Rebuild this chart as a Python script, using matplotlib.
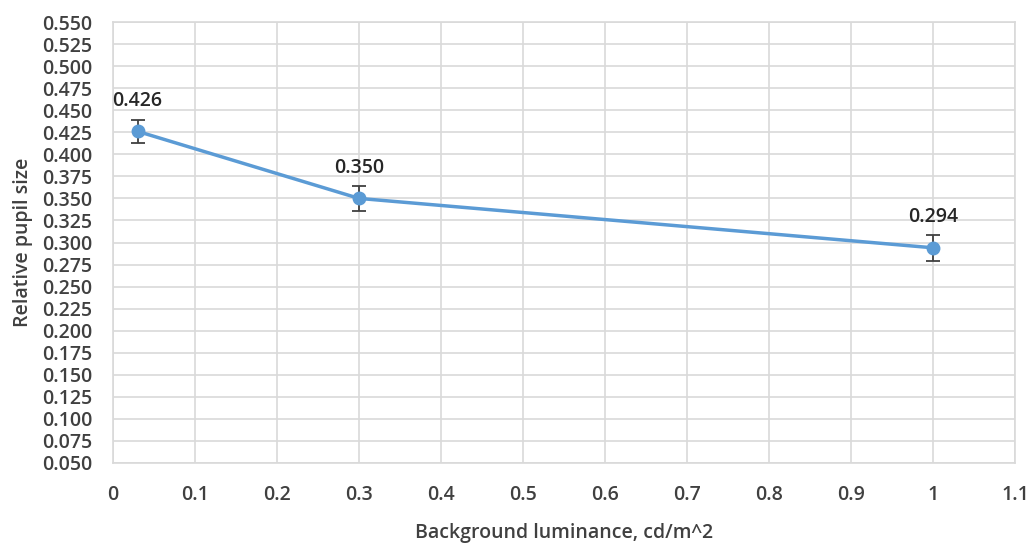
import matplotlib
matplotlib.use("Agg")
import matplotlib.pyplot as plt
import numpy as np

# Pupil size measurements vs background luminance
luminance = [0.03, 0.3, 1.0]
pupil_size = [0.426, 0.350, 0.294]
pupil_err = [0.013, 0.0145, 0.015]
value_labels = ["0.426", "0.350", "0.294"]

x_ticks = [0, 0.1, 0.2, 0.3, 0.4, 0.5, 0.6, 0.7, 0.8, 0.9, 1.0, 1.1]
x_tick_labels = ["0", "0.1", "0.2", "0.3", "0.4", "0.5", "0.6", "0.7", "0.8", "0.9", "1", "1.1"]
y_ticks = np.arange(0.050, 0.5501, 0.025)

plt.rcParams['font.family'] = ['Open Sans', 'DejaVu Sans']
plt.rcParams['font.weight'] = 'semibold'
plt.rcParams['axes.labelweight'] = 'semibold'

fig = plt.figure(figsize=(10.32, 5.44), dpi=100)
ax = fig.add_axes([113/1032, 1 - 463/544, (1015 - 113)/1032, (463 - 22)/544])

line_color = "#5B9BD5"
text_color = "#404040"
grid_color = "#D9D9D9"

ax.errorbar(luminance, pupil_size, yerr=pupil_err, color=line_color, lw=2.5,
            marker="o", ms=9, mfc=line_color, mec=line_color,
            ecolor=text_color, elinewidth=1.3, capsize=5, capthick=1.3, zorder=3)

for xv, yv, lab in zip(luminance, pupil_size, value_labels):
    ax.annotate(lab, (xv, yv), xytext=(0, 22), textcoords="offset points",
                ha="center", va="center", fontsize=14, color="#262626")

ax.set_xlim(0, 1.1)
ax.set_ylim(0.05, 0.55)
ax.set_xticks(x_ticks)
ax.set_xticklabels(x_tick_labels)
ax.set_yticks(y_ticks)
ax.set_yticklabels([f"{v:.3f}" for v in y_ticks])

ax.grid(True, color=grid_color, lw=1.2)
ax.set_axisbelow(True)
for s in ax.spines.values():
    s.set_color(grid_color)
    s.set_linewidth(1.2)

ax.tick_params(axis="both", length=0, labelsize=14, colors=text_color)
ax.tick_params(axis="y", pad=15)
ax.tick_params(axis="x", pad=16)

ax.set_xlabel("Background luminance, cd/m^2", fontsize=14, color=text_color, labelpad=13)
ax.set_ylabel("Relative pupil size", fontsize=14, color=text_color, labelpad=6)

fig.savefig("out.png", dpi=100, facecolor="white")
